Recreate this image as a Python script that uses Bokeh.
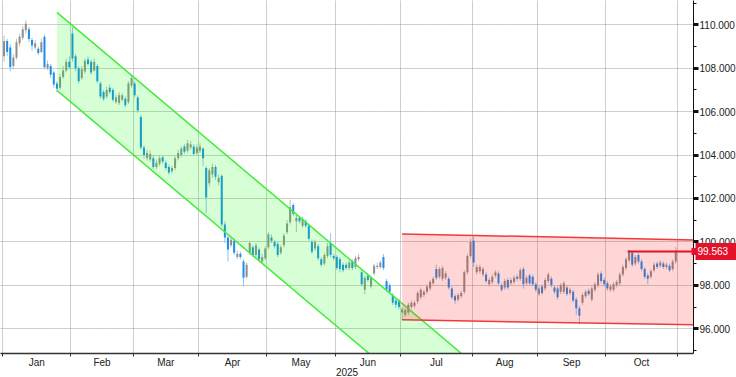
import numpy as np
from bokeh.plotting import figure
from bokeh.models import FixedTicker, NumeralTickFormatter, ColumnDataSource, Range1d, LinearAxis
from bokeh.embed import file_html
from bokeh.resources import INLINE

# ---------------- data ----------------
month_names = ["Jan", "Feb", "Mar", "Apr", "May", "Jun", "Jul", "Aug", "Sep", "Oct"]
month_days = [22, 20, 21, 22, 22, 21, 23, 21, 22, 23]   # trading days per month
year_label = "2025"

opens = [
    108.55, 109.25, 108.95, 108.10, 108.50, 109.15, 109.40, 109.75, 109.80, 109.30,
    108.95, 108.90, 108.75, 109.45, 108.00, 108.10, 107.80, 107.30, 107.10, 107.60,
    107.90, 108.30,
    109.60, 108.55, 108.00, 107.55, 107.85, 108.40, 108.30, 107.90, 108.10, 107.30,
    106.90, 106.70, 107.10, 107.00, 106.45, 106.40, 106.55, 106.60, 106.45, 107.20,
    107.30, 106.65, 105.75, 104.35, 103.85, 103.80, 103.85, 103.45, 103.60, 103.90,
    103.65, 103.45, 103.25, 103.40, 103.85, 104.00, 104.40, 104.20, 104.35, 104.40,
    104.10,
    104.20, 104.30, 103.40, 102.70, 103.10, 103.45, 102.75, 103.05, 100.80, 100.20,
    99.85, 100.05, 99.30, 99.45, 99.10, 98.40, 99.50, 99.75, 99.40, 99.65,
    99.10, 99.25,
    99.75, 100.20, 100.00, 99.90, 99.50, 99.85, 100.45, 100.90, 101.70, 100.95,
    101.10, 100.75, 100.95, 100.75, 100.00, 99.70, 99.80, 99.20, 99.00, 99.35,
    99.95, 99.35,
    99.30, 99.20, 98.95, 98.95, 98.80, 99.10, 98.85, 99.20, 98.60, 97.80,
    98.45, 97.95, 98.55, 98.85, 98.85, 99.30, 98.20, 98.00, 97.55, 97.30,
    97.30,
    96.75, 96.65, 96.75, 97.00, 97.05, 97.25, 97.45, 97.55, 97.70, 97.85,
    98.10, 98.75, 98.40, 98.30, 98.35, 98.30, 97.85, 97.50, 97.35, 97.50,
    97.70, 98.60, 99.35,
    100.05, 98.60, 98.65, 98.50, 98.50, 98.05, 98.15, 98.45, 98.55, 98.00,
    97.90, 98.25, 98.10, 98.15, 98.40, 98.30, 98.75, 98.10, 98.45, 98.40,
    98.05,
    97.60, 97.95, 97.85, 98.20, 98.30, 97.90, 97.85, 97.70, 97.70, 97.90,
    97.65, 97.70, 97.35, 96.95, 97.20, 97.50, 97.75, 97.35, 97.80, 98.00,
    98.55, 98.25,
    98.10, 97.80, 97.80, 98.00, 98.10, 98.50, 98.80, 99.15, 99.50, 99.00,
    99.40, 99.10, 98.75, 98.45, 98.40, 98.70, 99.00, 98.90, 99.00, 98.85,
    98.90, 98.75, 99.10,
]

closes = [
    109.25, 108.75, 108.05, 108.50, 109.20, 109.45, 109.80, 110.05, 109.35, 109.05,
    109.15, 108.70, 109.20, 108.05, 108.20, 107.70, 107.25, 107.05, 107.60, 107.90,
    108.30, 108.05,
    108.45, 108.00, 107.40, 107.95, 108.35, 108.20, 107.80, 108.30, 107.40, 106.70,
    106.60, 107.00, 106.90, 106.55, 106.65, 106.75, 106.75, 106.30, 107.30, 107.55,
    106.75, 106.05, 104.35, 104.00, 104.10, 104.05, 103.45, 103.65, 103.85, 103.70,
    103.40, 103.20, 103.40, 103.85, 104.10, 104.30, 104.15, 104.55, 104.50, 104.05,
    104.35,
    104.40, 103.85, 102.05, 103.30, 103.45, 103.00, 102.95, 100.80, 100.20, 99.65,
    100.10, 99.50, 99.45, 99.30, 98.35, 98.95, 99.95, 99.40, 99.85, 99.20,
    99.30, 99.70,
    100.35, 100.05, 99.80, 99.40, 99.75, 100.30, 100.85, 101.60, 101.30, 101.10,
    100.95, 101.05, 100.75, 100.15, 99.55, 100.00, 99.25, 98.95, 99.40, 99.80,
    99.40, 99.25,
    98.80, 98.75, 98.70, 98.80, 99.05, 98.80, 99.25, 99.30, 98.05, 98.35,
    98.25, 98.35, 98.90, 98.90, 99.05, 98.80, 97.80, 97.70, 97.20, 97.10,
    97.00,
    96.90, 96.85, 97.10, 97.20, 97.20, 97.65, 97.80, 97.70, 97.95, 98.15,
    98.30, 98.35, 98.75, 98.80, 98.55, 97.90, 97.45, 97.30, 97.55, 97.65,
    98.60, 99.35, 100.00,
    99.05, 98.85, 98.85, 98.75, 98.20, 98.25, 98.40, 98.60, 98.10, 97.80,
    98.20, 97.90, 98.25, 98.35, 98.30, 98.70, 98.05, 98.35, 98.10, 98.05,
    97.80,
    97.85, 97.65, 98.25, 98.50, 98.00, 97.70, 97.45, 98.00, 98.10, 97.60,
    97.80, 97.30, 96.95, 96.60, 97.55, 97.70, 97.60, 97.85, 98.05, 98.50,
    98.20, 98.05,
    97.85, 97.95, 98.05, 98.15, 98.50, 98.85, 99.20, 99.55, 98.95, 99.30,
    99.10, 98.75, 98.40, 98.30, 98.65, 98.95, 98.85, 99.05, 98.85, 98.95,
    98.70, 99.10, 99.563,
]

highs = [
    109.50, 109.35, 109.10, 108.65, 109.35, 109.60, 109.95, 110.20, 109.90, 109.40,
    109.30, 109.00, 109.35, 109.55, 108.35, 108.20, 107.90, 107.40, 107.75, 108.10,
    108.45, 108.55,
    109.90, 108.65, 108.10, 108.10, 108.45, 108.55, 108.40, 108.45, 108.20, 107.40,
    107.00, 107.15, 107.25, 107.10, 106.80, 106.90, 106.85, 106.70, 107.40, 107.70,
    107.40, 106.75, 105.85, 104.45, 104.25, 104.20, 104.00, 103.80, 104.00, 104.00,
    103.75, 103.55, 103.50, 103.95, 104.25, 104.40, 104.50, 104.70, 104.65, 104.50,
    104.50,
    104.55, 104.35, 103.50, 103.40, 103.60, 103.55, 103.10, 103.10, 100.95, 100.30,
    100.25, 100.15, 99.60, 99.55, 99.20, 99.05, 100.05, 99.85, 99.95, 99.75,
    99.45, 99.80,
    100.45, 100.35, 100.10, 100.00, 99.85, 100.40, 101.00, 101.95, 101.80, 101.25,
    101.20, 101.15, 101.05, 100.85, 100.10, 100.10, 99.90, 99.30, 99.50, 99.95,
    100.40, 99.45,
    99.40, 99.30, 99.05, 99.05, 99.15, 99.20, 99.35, 99.45, 98.70, 98.45,
    98.55, 98.45, 99.00, 99.05, 99.15, 99.45, 98.30, 98.10, 97.65, 97.40,
    97.40,
    97.00, 96.95, 97.20, 97.30, 97.30, 97.75, 97.90, 97.80, 98.05, 98.25,
    98.40, 98.95, 98.85, 98.90, 98.65, 98.40, 97.95, 97.60, 97.65, 97.75,
    98.70, 99.45, 100.15,
    100.25, 98.95, 98.95, 98.85, 98.60, 98.35, 98.50, 98.70, 98.65, 98.10,
    98.30, 98.35, 98.35, 98.45, 98.50, 98.80, 98.85, 98.45, 98.55, 98.50,
    98.15,
    97.95, 98.05, 98.35, 98.60, 98.40, 98.00, 97.95, 98.10, 98.20, 98.00,
    97.90, 97.80, 97.45, 97.05, 97.65, 97.80, 97.85, 97.95, 98.15, 98.60,
    98.65, 98.35,
    98.20, 98.05, 98.15, 98.25, 98.60, 98.95, 99.30, 99.65, 99.60, 99.40,
    99.50, 99.20, 98.85, 98.55, 98.75, 99.05, 99.10, 99.15, 99.10, 99.05,
    99.00, 99.20, 99.75,
]

lows = [
    108.30, 108.55, 107.85, 107.95, 108.40, 109.00, 109.30, 109.60, 109.20, 108.80,
    108.85, 108.60, 108.70, 107.95, 107.90, 107.55, 107.10, 106.90, 107.00, 107.50,
    107.80, 107.95,
    108.30, 107.85, 107.30, 107.45, 107.75, 108.10, 107.70, 107.85, 107.30, 106.60,
    106.50, 106.60, 106.80, 106.45, 106.35, 106.30, 106.45, 106.20, 106.35, 107.10,
    106.65, 105.95, 104.25, 103.85, 103.75, 103.70, 103.35, 103.35, 103.50, 103.60,
    103.30, 103.10, 103.15, 103.30, 103.75, 103.90, 104.05, 104.10, 104.25, 103.95,
    104.00,
    104.10, 103.50, 101.30, 102.55, 102.95, 102.85, 102.60, 100.70, 99.95, 99.10,
    99.75, 99.40, 99.20, 99.20, 97.95, 98.30, 99.40, 99.30, 99.30, 99.10,
    99.00, 99.15,
    99.65, 99.95, 99.70, 99.30, 99.40, 99.75, 100.35, 100.80, 101.20, 100.45,
    100.85, 100.65, 100.65, 100.05, 99.45, 99.60, 99.15, 98.85, 98.90, 99.25,
    99.30, 99.15,
    98.70, 98.60, 98.60, 98.70, 98.70, 98.70, 98.75, 99.10, 97.95, 97.60,
    98.15, 97.85, 98.45, 98.75, 98.75, 98.70, 97.70, 97.60, 97.10, 96.95,
    96.90,
    96.40, 96.55, 96.65, 96.90, 96.95, 97.15, 97.35, 97.45, 97.60, 97.75,
    98.00, 98.25, 98.30, 98.20, 98.25, 97.80, 97.35, 97.15, 97.25, 97.40,
    97.60, 98.50, 99.25,
    98.85, 98.50, 98.55, 98.40, 98.10, 97.95, 98.05, 98.35, 98.00, 97.70,
    97.80, 97.80, 98.00, 98.05, 98.20, 98.20, 97.85, 98.00, 98.00, 97.95,
    97.70,
    97.50, 97.55, 97.75, 98.10, 97.90, 97.60, 97.35, 97.60, 97.60, 97.50,
    97.55, 97.20, 96.65, 96.20, 97.10, 97.40, 97.50, 97.25, 97.70, 97.90,
    98.10, 97.95,
    97.75, 97.70, 97.70, 97.90, 98.00, 98.40, 98.70, 99.05, 98.85, 98.90,
    99.00, 98.65, 98.30, 98.05, 98.30, 98.60, 98.75, 98.80, 98.75, 98.75,
    98.60, 98.65, 99.00,
]

y_ticks = [96, 98, 100, 102, 104, 106, 108, 110]
y_minor = [95, 97, 99, 101, 103, 105, 107, 109, 111]
last_price = 99.563

# drawn trend channels (bar index, price)
green_x = [17.0, 160.0]
green_upper = [110.57, 93.30]
green_lower = [106.98, 89.71]
red_x = [128.0, 230.0]
red_upper = [100.37, 100.065]
red_lower = [96.41, 96.16]
price_line_x = [200.5, 230.0]

X_START, X_END = -1.14, 221.7
Y_START, Y_END = 94.86, 111.12

# ---------------- build ----------------
n = len(closes)
idx = np.arange(n)
o = np.array(opens); c = np.array(closes); h = np.array(highs); l = np.array(lows)
up = c >= o
body_col = np.where(up, "#8e8e8e", "#1f8ceb")
wick_col = np.where(up, "#bdbdbd", "#8cc6f5")
src = ColumnDataSource(dict(x=idx, o=o, c=c, h=h, l=l,
                            top=np.maximum(o, c), bot=np.minimum(o, c),
                            bc=body_col, wc=wick_col))

bounds = np.concatenate([[0], np.cumsum(month_days)]) - 0.5
mids = [(bounds[k] + bounds[k + 1]) / 2 for k in range(len(month_names))]

p = figure(frame_width=693, frame_height=353,
           x_range=Range1d(X_START, X_END), y_range=Range1d(Y_START, Y_END),
           y_axis_location="right", toolbar_location=None, output_backend="svg",
           min_border=0, outline_line_color=None,
           background_fill_color="white", border_fill_color="white")

# grid
p.xgrid.ticker = FixedTicker(ticks=list(bounds))
for g in (p.xgrid, p.ygrid):
    g.grid_line_color = "#9c9c9c"
    g.grid_line_dash = "1 1"
    g.grid_line_width = 1

FONT = "Liberation Sans"
RED = "#e4112a"

# x axis
xa = p.xaxis[0]
xa.ticker = FixedTicker(ticks=mids, minor_ticks=list(bounds))
xa.major_label_overrides = {float(m): name for m, name in zip(mids, month_names)}
xa.major_tick_out = 0
xa.major_tick_in = 0
xa.minor_tick_out = 3
xa.minor_tick_in = 0
xa.minor_tick_line_color = "#333333"
xa.axis_line_color = "#333333"
xa.axis_line_width = 1.5
xa.major_label_text_font = FONT
xa.major_label_text_font_size = "10px"
xa.major_label_text_color = "#222222"
xa.major_label_standoff = 0
xa.axis_label = year_label
xa.axis_label_text_font = FONT
xa.axis_label_text_font_size = "10px"
xa.axis_label_text_font_style = "normal"
xa.axis_label_text_color = "#222222"
xa.axis_label_standoff = -3

# y axis
ya = p.yaxis[0]
ya.ticker = FixedTicker(ticks=y_ticks, minor_ticks=y_minor)
ya.formatter = NumeralTickFormatter(format="0.000")
ya.major_tick_out = 5
ya.major_tick_in = 0
ya.major_tick_line_width = 3
ya.major_tick_line_color = "#111111"
ya.minor_tick_out = 3
ya.minor_tick_in = 0
ya.minor_tick_line_color = "#111111"
ya.axis_line_color = "#111111"
ya.major_label_text_font = FONT
ya.major_label_text_font_size = "10px"
ya.major_label_text_color = "#222222"
ya.major_label_standoff = 1

# candles
p.segment(x0="x", y0="l", x1="x", y1="h", color="wc", line_width=1, source=src)
p.vbar(x="x", width=0.65, top="top", bottom="bot", fill_color="bc", line_color=None, source=src)

# green descending channel
p.patch(green_x + green_x[::-1], green_upper + green_lower[::-1],
        fill_color="#00ff00", fill_alpha=0.16, line_color=None)
p.line(green_x, green_upper, line_color="#45ec3c", line_width=1.5)
p.line(green_x, green_lower, line_color="#45ec3c", line_width=1.5)

# red range box
p.patch(red_x + red_x[::-1], red_upper + red_lower[::-1],
        fill_color="#ff0000", fill_alpha=0.16, line_color=None)
p.line(red_x, red_upper, line_color="#f03a3a", line_width=1.5)
p.line(red_x, red_lower, line_color="#f03a3a", line_width=1.5)

# last price line
p.line(price_line_x, [last_price, last_price], line_color=RED, line_width=2)

# last price tag: a second right axis whose single tick is drawn inward as a red box
tag = LinearAxis(ticker=FixedTicker(ticks=[last_price], minor_ticks=[last_price]),
                 formatter=NumeralTickFormatter(format="0.000"),
                 axis_line_color=None,
                 major_tick_out=0, major_tick_in=43,
                 major_tick_line_width=17, major_tick_line_color=RED,
                 major_tick_line_cap="butt",
                 minor_tick_out=0, minor_tick_in=47,
                 minor_tick_line_width=7, minor_tick_line_color=RED,
                 minor_tick_line_cap="butt",
                 major_label_standoff=-41,
                 major_label_text_color="white",
                 major_label_text_font=FONT,
                 major_label_text_font_size="10px")
p.add_layout(tag, "right")

open("out.html", "w").write(file_html(p, INLINE))
